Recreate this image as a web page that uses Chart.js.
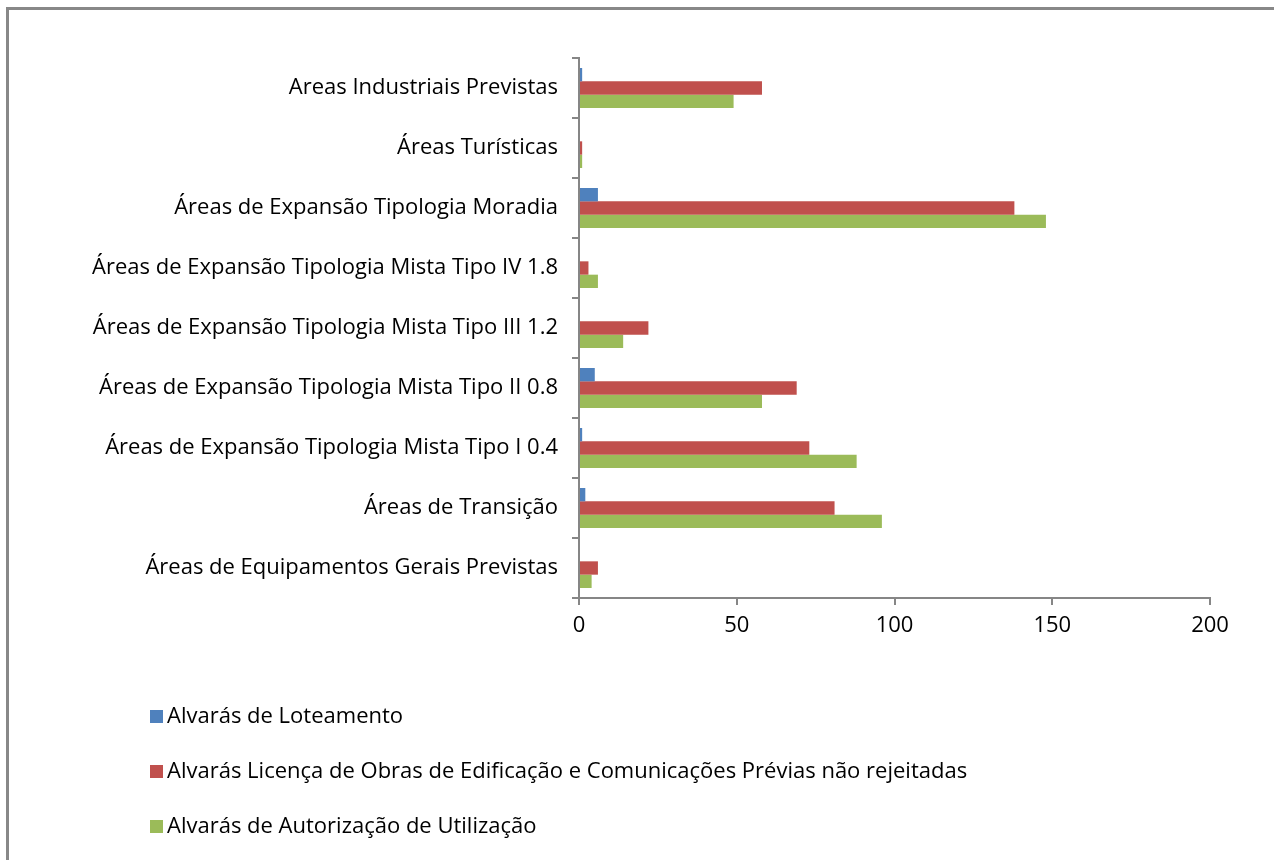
<!DOCTYPE html>
<html>
<head>
<meta charset="utf-8">
<script src="https://cdn.jsdelivr.net/npm/chart.js@4.4.1/dist/chart.umd.min.js"></script>
<style>
  html, body { margin: 0; padding: 0; background: #fff; }
  #wrap { position: relative; width: 1274px; height: 860px; }
</style>
</head>
<body>
<div id="wrap"><canvas id="alvarasChart" width="1274" height="860"></canvas></div>
<script>
// Categorias (de cima para baixo)
const categorias = [
    'Areas Industriais Previstas',
    'Áreas Turísticas',
    'Áreas de Expansão Tipologia Moradia',
    'Áreas de Expansão Tipologia Mista Tipo IV 1.8',
    'Áreas de Expansão Tipologia Mista Tipo III 1.2',
    'Áreas de Expansão Tipologia Mista Tipo II 0.8',
    'Áreas de Expansão Tipologia Mista Tipo I 0.4',
    'Áreas de Transição',
    'Áreas de Equipamentos Gerais Previstas'
];

const loteamento = [1, 0, 6, 0, 0, 5, 1, 2, 0];
const licencaObras = [58, 1, 138, 3, 22, 69, 73, 81, 6];
const autorizacaoUtilizacao = [49, 1, 148, 6, 14, 58, 88, 96, 4];

const xTicks = [0, 50, 100, 150, 200];

const FONT = "'Open Sans', 'DejaVu Sans', sans-serif";
const AXIS_COLOR = '#868686';

// moldura cinzenta à volta do gráfico
const frame = {
    id: 'frame',
    beforeDraw(chart) {
        const ctx = chart.ctx;
        ctx.save();
        ctx.fillStyle = '#fff';
        ctx.fillRect(0, 0, chart.width, chart.height);
        ctx.strokeStyle = '#888';
        ctx.lineWidth = 3;
        ctx.strokeRect(7.5, 8.5, chart.width + 20, chart.height + 20);
        ctx.restore();
    }
};

// legenda vertical por baixo do eixo
const verticalLegend = {
    id: 'verticalLegend',
    afterDraw(chart) {
        const ctx = chart.ctx;
        ctx.save();
        ctx.font = '22px ' + FONT;
        ctx.textBaseline = 'middle';
        chart.data.datasets.forEach((ds, i) => {
            const y = 716 + i * 55;
            ctx.fillStyle = ds.backgroundColor;
            ctx.fillRect(150, y - 6, 13, 13);
            ctx.fillStyle = '#000';
            ctx.fillText(ds.label, 167, y + 1);
        });
        ctx.restore();
    }
};

const ctx = document.getElementById('alvarasChart').getContext('2d');
new Chart(ctx, {
    type: 'bar',
    data: {
        labels: categorias,
        datasets: [{
                label: 'Alvarás de Loteamento',
                data: loteamento,
                backgroundColor: '#4F81BD'
            }, {
                label: 'Alvarás Licença de Obras de Edificação e Comunicações Prévias não rejeitadas',
                data: licencaObras,
                backgroundColor: '#C0504D'
            }, {
                label: 'Alvarás de Autorização de Utilização',
                data: autorizacaoUtilizacao,
                backgroundColor: '#9BBB59'
            }]
    },
    options: {
        indexAxis: 'y',
        responsive: false,
        animation: false,
        categoryPercentage: 0.667,
        barPercentage: 1.0,
        layout: {
            padding: { top: 58, right: 64, bottom: 0, left: 0 }
        },
        scales: {
            y: {
                grid: {
                    display: true,
                    drawOnChartArea: false,
                    offset: true,
                    tickLength: 7,
                    color: AXIS_COLOR,
                    lineWidth: 2
                },
                border: { color: AXIS_COLOR, width: 2 },
                ticks: {
                    color: '#000',
                    padding: 14,
                    font: { family: FONT, size: 22 }
                },
                afterFit(scale) {
                    scale.width = 579;
                }
            },
            x: {
                min: 0,
                max: 200,
                afterBuildTicks(scale) {
                    scale.ticks = xTicks.map(v => ({ value: v }));
                },
                grid: {
                    display: true,
                    drawOnChartArea: false,
                    tickLength: 7,
                    color: AXIS_COLOR,
                    lineWidth: 2
                },
                border: { color: AXIS_COLOR, width: 2 },
                ticks: {
                    color: '#000',
                    padding: 8,
                    font: { family: FONT, size: 22 }
                },
                afterFit(scale) {
                    scale.height = 262;
                }
            }
        },
        plugins: {
            legend: { display: false },
            tooltip: { enabled: false }
        }
    },
    plugins: [frame, verticalLegend]
});
</script>
</body>
</html>
